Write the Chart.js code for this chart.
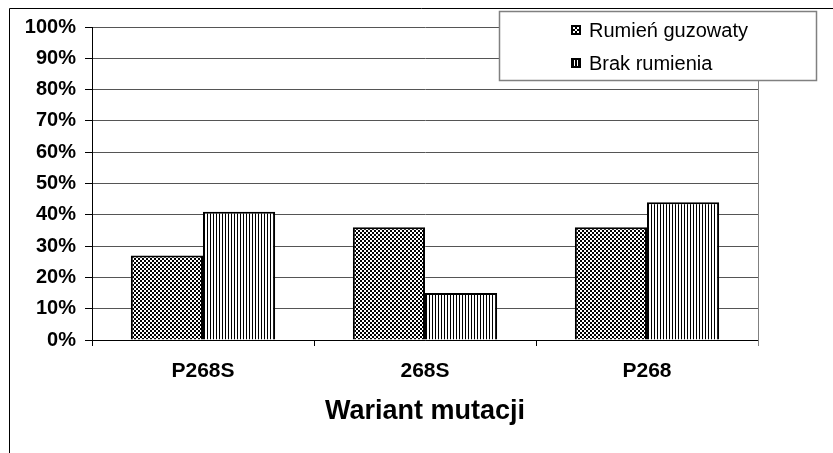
<!DOCTYPE html>
<html>
<head>
<meta charset="utf-8">
<script src="https://cdn.jsdelivr.net/npm/chart.js@4.4.0/dist/chart.umd.min.js"></script>
<style>
  html, body { margin: 0; padding: 0; background: #fff; }
  #wrap { width: 833px; height: 453px; position: relative; }
</style>
</head>
<body>
<div id="wrap"><canvas id="wykres"></canvas></div>
<script>
const kategorie = ["P268S", "268S", "P268"];
const rumienGuzowaty = [27, 36, 36];
const brakRumienia = [41, 15, 44];
const etykietySerii = ["Rumień guzowaty", "Brak rumienia"];
const podzialkaY = [0, 10, 20, 30, 40, 50, 60, 70, 80, 90, 100];
const tytulOsiX = "Wariant mutacji";

const FONT = "'Liberation Sans', Arial, sans-serif";

// wzór: szachownica 2px
function wzorSzachownica() {
  const c = document.createElement("canvas");
  c.width = 4; c.height = 4;
  const x = c.getContext("2d");
  x.fillStyle = "#fff"; x.fillRect(0, 0, 4, 4);
  x.fillStyle = "#000"; x.fillRect(0, 0, 2, 2); x.fillRect(2, 2, 2, 2);
  return x.createPattern(c, "repeat");
}

// wzór: pionowe paski
function wzorPaski() {
  const c = document.createElement("canvas");
  c.width = 3; c.height = 1;
  const x = c.getContext("2d");
  x.fillStyle = "#fff"; x.fillRect(0, 0, 3, 1);
  x.fillStyle = "#000"; x.fillRect(0, 0, 1, 1);
  return x.createPattern(c, "repeat");
}

const wzory = [wzorSzachownica(), wzorPaski()];

// małe próbki w legendzie (czarne z białymi otworami)
function probka(ctx, i, x, y) {
  ctx.fillStyle = "#000";
  ctx.fillRect(x, y, 10, 10);
  ctx.fillStyle = "#fff";
  if (i === 0) {
    ctx.fillRect(x + 2, y + 2, 2, 2);
    ctx.fillRect(x + 6, y + 2, 2, 2);
    ctx.fillRect(x + 4, y + 4, 2, 2);
    ctx.fillRect(x + 2, y + 6, 2, 2);
    ctx.fillRect(x + 6, y + 6, 2, 2);
  } else {
    ctx.fillRect(x + 3, y + 2, 1, 6);
    ctx.fillRect(x + 6, y + 2, 1, 6);
  }
}

// ramka wykresu, prawa krawędź obszaru i legenda
const dodatki = {
  id: "dodatki",
  afterDraw(chart) {
    const ctx = chart.ctx;
    const a = chart.chartArea;
    ctx.save();
    // prawa krawędź obszaru wykresu
    ctx.strokeStyle = "#808080";
    ctx.lineWidth = 1;
    ctx.beginPath();
    ctx.moveTo(Math.round(a.right) + 0.5, a.top);
    ctx.lineTo(Math.round(a.right) + 0.5, a.bottom + 6);
    ctx.stroke();
    // zewnętrzna ramka
    ctx.strokeStyle = "#000";
    ctx.beginPath();
    ctx.moveTo(9.5, 453);
    ctx.lineTo(9.5, 8.5);
    ctx.lineTo(833, 8.5);
    ctx.stroke();
    // legenda
    ctx.fillStyle = "#fff";
    ctx.fillRect(499, 11, 318, 70);
    ctx.strokeStyle = "#808080";
    ctx.lineWidth = 1.5;
    ctx.strokeRect(499.5, 11.5, 317, 69);
    const wiersze = [30, 63];
    chart.data.datasets.forEach((ds, i) => {
      const y = wiersze[i];
      probka(ctx, i, 571, y - 5);
      ctx.fillStyle = "#000";
      ctx.font = "20px " + FONT;
      ctx.textBaseline = "middle";
      ctx.textAlign = "left";
      ctx.fillText(ds.label, 589, y + 1);
    });
    ctx.restore();
  }
};

new Chart(document.getElementById("wykres"), {
  type: "bar",
  data: {
    labels: kategorie,
    datasets: [
      {
        label: etykietySerii[0],
        data: rumienGuzowaty,
        backgroundColor: wzory[0],
        borderColor: "#000",
        borderWidth: 2,
        categoryPercentage: 0.65,
        barPercentage: 1
      },
      {
        label: etykietySerii[1],
        data: brakRumienia,
        backgroundColor: wzory[1],
        borderColor: "#000",
        borderWidth: 2,
        categoryPercentage: 0.65,
        barPercentage: 1
      }
    ]
  },
  options: {
    responsive: true,
    maintainAspectRatio: false,
    animation: false,
    layout: { padding: { left: 0, right: 75, top: 27, bottom: 0 } },
    scales: {
      x: {
        grid: {
          offset: true,
          drawOnChartArea: false,
          drawTicks: true,
          tickLength: 6,
          color: "#000",
          tickColor: "#000"
        },
        border: { color: "#000", width: 1 },
        ticks: {
          color: "#000",
          padding: 13,
          font: { family: FONT, size: 21, weight: "bold" }
        },
        title: {
          display: true,
          text: tytulOsiX,
          color: "#000",
          padding: { top: 0, bottom: 25 },
          font: { family: FONT, size: 27, weight: "bold" }
        },
        afterFit(s) { s.height = 113; }
      },
      y: {
        min: 0,
        max: 100,
        afterBuildTicks(s) { s.ticks = podzialkaY.map(v => ({ value: v })); },
        grid: {
          color: "#555",
          tickColor: "#000",
          tickLength: 7
        },
        border: { color: "#000", width: 1 },
        ticks: {
          color: "#000",
          padding: 9,
          font: { family: FONT, size: 20, weight: "bold" },
          callback: v => v + "%"
        },
        afterFit(s) { s.width = 92; }
      }
    },
    plugins: {
      legend: { display: false },
      tooltip: { enabled: false }
    }
  },
  plugins: [dodatki]
});
</script>
</body>
</html>
